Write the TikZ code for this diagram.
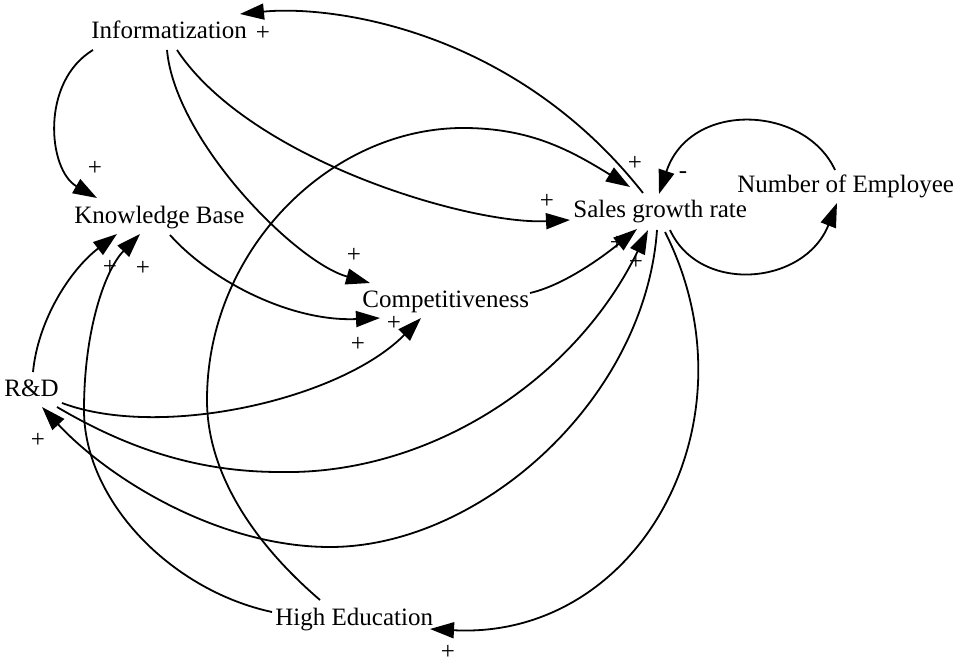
\documentclass[tikz,border=0pt]{standalone}
\usepackage{fontspec}
\setmainfont{Liberation Serif}
\usetikzlibrary{arrows.meta}
\begin{document}
\begin{tikzpicture}[x=0.5pt,y=-0.5pt,
  var/.style={inner sep=0pt,anchor=base west,font=\fontsize{12.5}{15}\selectfont},
  pol/.style={inner sep=0pt,font=\fontsize{12.5}{15}\selectfont},
  link/.style={line width=0.9pt,-{Triangle[length=12pt,width=8pt]}},
  ]
\useasboundingbox (0,0) rectangle (953,663);

% variables
\node[var] (info)  at (91,39)  {Informatization};
\node[var] (kb)    at (74,224) {Knowledge Base};
\node[var] (sales) at (573,218) {Sales growth rate};
\node[var] (comp)  at (362,307) {Competitiveness};
\node[var] (noe)   at (737,193) {Number of Employee};
\node[var] (rd)    at (4,396)  {R\&D};
\node[var] (he)    at (275,625) {High Education};

% link polarities
\node[pol] (p1)  at (263,33)  {+};
\node[pol] (p2)  at (95,168)  {+};
\node[pol] (p3)  at (547,201) {+};
\node[pol] (p4)  at (635,163) {+};
\node[pol] (p5)  at (354,255) {+};
\node[pol] (p6)  at (394,323) {+};
\node[pol] (p7)  at (358,344) {+};
\node[pol] (p8)  at (110,267) {+};
\node[pol] (p9)  at (143,268) {+};
\node[pol] (p10) at (38,440)  {+};
\node[pol] (p11) at (448,652) {+};
\node[pol] (p12) at (617,243) {+};
\node[pol] (p13) at (636,262) {+};
\node[pol] (p14) at (683,175) {-};

% causal links
\draw[link] ([shift={(70,-25)}]sales.base west) .. controls (513,28) and (330,5) .. ([shift={(149,-25)}]info.base west);
\draw[link] ([shift={(2,11)}]info.base west) .. controls (40,82) and (48,170) .. ([shift={(23,-26)}]kb.base west);
\draw[link] ([shift={(86,11)}]info.base west) .. controls (250,160) and (470,225) .. ([shift={(-3,2)}]sales.base west);
\draw[link] ([shift={(76,11)}]info.base west) .. controls (175,140) and (295,262) .. ([shift={(8,-24)}]comp.base west);
\draw[link] ([shift={(96,11)}]kb.base west) .. controls (210,280) and (290,322) .. ([shift={(18,11)}]comp.base west);
\draw[link] ([shift={(58,7)}]rd.base west) .. controls (160,440) and (340,400) .. ([shift={(59,11)}]comp.base west);
\draw[link] ([shift={(53,11)}]rd.base west) .. controls (130,450) and (200,472) .. (280,472)
  .. controls (430,475) and (575,380) .. ([shift={(75,12)}]sales.base west);
\draw[link] ([shift={(84,12)}]sales.base west) .. controls (645,400) and (480,547) .. (330,547)
  .. controls (220,547) and (110,480) .. ([shift={(38,11)}]rd.base west);
\draw[link] ([shift={(92,14)}]sales.base west) .. controls (760,420) and (640,640) .. ([shift={(155,4)}]he.base west);
\draw[link] ([shift={(-3,-13)}]he.base west) .. controls (170,590) and (84,500) .. (84,410)
  .. controls (84,330) and (105,270) .. ([shift={(66,10)}]kb.base west);
\draw[link] ([shift={(45,-25)}]he.base west) .. controls (250,540) and (207,470) .. (207,400)
  .. controls (207,250) and (330,128) .. (463,128)
  .. controls (530,128) and (570,150) .. ([shift={(57,-31)}]sales.base west);
\draw[link] ([shift={(29,-24)}]rd.base west) .. controls (38,320) and (70,270) .. ([shift={(43,10)}]kb.base west);
\draw[link] ([shift={(168,-14)}]comp.base west) .. controls (565,285) and (605,255) .. ([shift={(64,11)}]sales.base west);
\draw[link] ([shift={(97,12)}]sales.base west) .. controls (700,295) and (805,285) .. ([shift={(100,10)}]noe.base west);
\draw[link] ([shift={(98,-23)}]noe.base west) .. controls (805,105) and (690,100) .. ([shift={(86,-24)}]sales.base west);
\end{tikzpicture}
\end{document}
